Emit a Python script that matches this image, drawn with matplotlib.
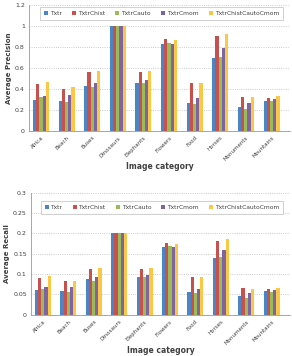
import numpy as np
import matplotlib
matplotlib.use("Agg")
import matplotlib.pyplot as plt

# Data
categories = ["Africa", "Beach", "Buses", "Dinosaurs", "Elephants",
              "Flowers", "Food", "Horses", "Monuments", "Mountains"]
series = ["Txtr", "TxtrChist", "TxtrCauto", "TxtrCmom", "TxtrChistCautoCmom"]

prec_txtr = [0.30, 0.29, 0.43, 1.0, 0.46, 0.83, 0.27, 0.70, 0.225, 0.29]
prec_chist = [0.445, 0.405, 0.56, 1.0, 0.56, 0.875, 0.455, 0.905, 0.325, 0.315]
prec_cauto = [0.32, 0.28, 0.42, 1.0, 0.46, 0.845, 0.26, 0.705, 0.21, 0.285]
prec_cmom = [0.33, 0.345, 0.46, 1.0, 0.49, 0.835, 0.315, 0.79, 0.265, 0.305]
prec_all = [0.465, 0.42, 0.57, 1.0, 0.57, 0.87, 0.46, 0.925, 0.32, 0.33]

rec_txtr = [0.061, 0.058, 0.088, 0.2, 0.092, 0.166, 0.055, 0.140, 0.045, 0.058]
rec_chist = [0.089, 0.082, 0.112, 0.2, 0.112, 0.176, 0.092, 0.181, 0.065, 0.063]
rec_cauto = [0.064, 0.056, 0.084, 0.2, 0.092, 0.168, 0.054, 0.142, 0.042, 0.057]
rec_cmom = [0.067, 0.069, 0.092, 0.2, 0.098, 0.167, 0.064, 0.158, 0.053, 0.060]
rec_all = [0.094, 0.084, 0.114, 0.2, 0.114, 0.174, 0.093, 0.185, 0.064, 0.065]

colors = ["#4a86c6", "#c8504d", "#9bbb59", "#7e64a2", "#fcc745"]
text_col = "#404040"

fig = plt.figure(figsize=(2.92, 3.56), dpi=100)
ax1 = fig.add_axes([0.099, 0.632, 0.894, 0.353])
ax2 = fig.add_axes([0.106, 0.116, 0.887, 0.343])

x = np.arange(len(categories))
bw = 0.125


def draw(ax, data, ymax, step, ylabel, fmt, leg_box):
    for i, vals in enumerate(data):
        ax.bar(x + (i - 2) * bw, vals, bw, color=colors[i], label=series[i],
               zorder=3, linewidth=0)
    ax.set_xlim(-0.47, 9.72)
    ax.set_ylim(0, ymax)
    ticks = np.arange(0, ymax + step / 2, step)
    ax.set_yticks(ticks)
    ax.set_yticklabels([fmt(t) for t in ticks], fontsize=4.5, color=text_col)
    ax.yaxis.grid(True, linestyle=":", color="#bbbbbb", linewidth=0.6, zorder=0)
    ax.set_xticks(x)
    ax.set_xticklabels(categories, rotation=45, ha="right", rotation_mode="anchor",
                       fontsize=4, color=text_col)
    ax.tick_params(axis="y", length=0, pad=3)
    ax.tick_params(axis="x", length=0, pad=3)
    for s in ["top", "right"]:
        ax.spines[s].set_visible(False)
    for s in ["left", "bottom"]:
        ax.spines[s].set_color("#999999")
        ax.spines[s].set_linewidth(0.6)
    ax.set_ylabel(ylabel, fontsize=5, fontweight="bold", color=text_col, labelpad=2)
    ax.set_xlabel("Image category", fontsize=5.5, fontweight="bold", color=text_col,
                  labelpad=0.5)
    leg = ax.legend(loc="center", bbox_to_anchor=leg_box, bbox_transform=fig.transFigure,
                    ncol=5, fontsize=4.3, frameon=True, fancybox=False,
                    handlelength=0.7, handleheight=0.7, handletextpad=0.3,
                    columnspacing=1.4, borderpad=0.6, mode="expand")
    leg.get_frame().set_edgecolor("#bbbbbb")
    leg.get_frame().set_linewidth(0.6)
    for t in leg.get_texts():
        t.set_color(text_col)


def fmt_p(t):
    return "0" if t == 0 else ("%g" % round(t, 2))


draw(ax1, [prec_txtr, prec_chist, prec_cauto, prec_cmom, prec_all], 1.2, 0.2,
     "Average Precision", fmt_p, (0.127, 0.935, 0.852, 0.054))
draw(ax2, [rec_txtr, rec_chist, rec_cauto, rec_cmom, rec_all], 0.3, 0.05,
     "Average Recall", fmt_p, (0.130, 0.390, 0.849, 0.054))

fig.savefig("out.png", dpi=100)
